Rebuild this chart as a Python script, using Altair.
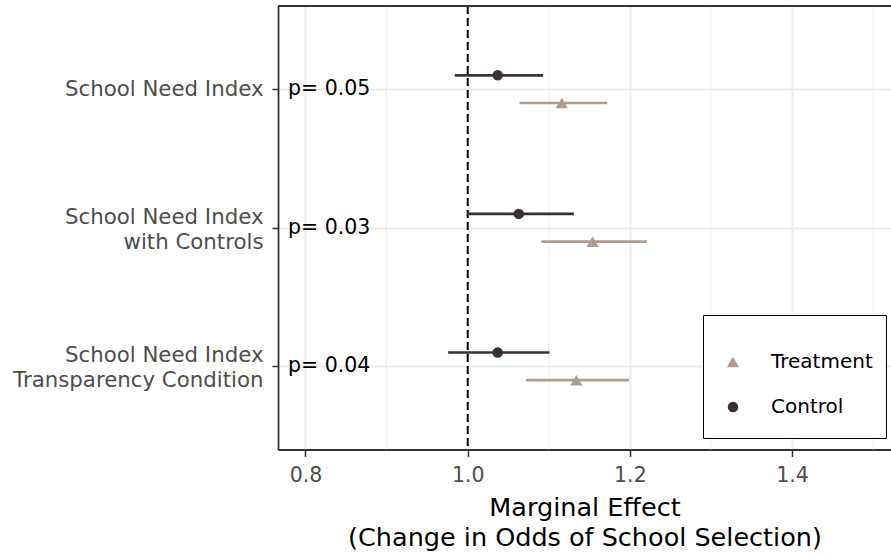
import altair as alt
import pandas as pd

# Models (rows, top to bottom) and their axis labels
models = ["need", "need_controls", "need_transparency"]
model_labels = [
    ["School Need Index"],
    ["School Need Index\u00a0", "with Controls"],
    ["School Need Index\u00a0", "Transparency Condition"],
]
p_text = ["p= 0.05", "p= 0.03", "p= 0.04"]

# Marginal effects (odds ratios) with confidence limits
control_est = [1.037, 1.063, 1.037]
control_lo = [0.984, 0.999, 0.976]
control_hi = [1.093, 1.131, 1.101]
treat_est = [1.116, 1.154, 1.134]
treat_lo = [1.064, 1.091, 1.072]
treat_hi = [1.172, 1.221, 1.199]

major_ticks = [0.8, 1.0, 1.2, 1.4]
minor_ticks = [0.9, 1.1, 1.3, 1.5]
x_domain = [0.7661, 1.5220]

groups = ["Treatment", "Control"]
colors = ["#b39b8b", "#3b3131"]
shapes = ["triangle-up", "circle"]
sizes = [150, 110]
dodge = {"Control": -0.1, "Treatment": 0.1}

rows = []
for i, m in enumerate(models):
    rows.append({"row": i + dodge["Control"], "group": "Control", "est": control_est[i],
                 "lo": control_lo[i], "hi": control_hi[i]})
    rows.append({"row": i + dodge["Treatment"], "group": "Treatment", "est": treat_est[i],
                 "lo": treat_lo[i], "hi": treat_hi[i]})
df = pd.DataFrame(rows)
df_p = pd.DataFrame({"row": list(range(len(models))), "p": p_text, "px": [0.7785] * 3})
df_minor = pd.DataFrame({"x": minor_ticks})
df_ref = pd.DataFrame({"x": [1.0]})

label_map = "[" + ", ".join(
    "[" + ", ".join(repr(s) for s in lab) + "]" for lab in model_labels
) + "]"

FONT = "DejaVu Sans"
W, H = 613, 443.5

xscale = alt.Scale(domain=x_domain, nice=False, zero=False)
yscale = alt.Scale(domain=[-0.6, len(models) - 1 + 0.6], reverse=True, nice=False, zero=False)
yaxis = alt.Axis(
    title=None, values=list(range(len(models))),
    labelExpr=f"{label_map}[datum.value]",
    labelFontSize=21.3, labelColor="#4d4d4d", labelFont=FONT, labelPadding=9,
    labelLineHeight=25, labelBaseline="middle", labelLimit=400,
    labelOffset={"condition": {"test": "datum.value == 0", "value": 0}, "value": -10.5},
    tickSize=6, tickColor="#333333", tickWidth=1.5,
    domainColor="#333333", domainWidth=1.8, grid=True, gridColor="#ebebeb",
    gridWidth=2,
)
xaxis = alt.Axis(
    values=major_ticks, format=".1f", labelFontSize=20.5, labelColor="#4d4d4d",
    labelFont=FONT, labelPadding=9, tickSize=7, tickColor="#333333",
    tickWidth=1.5, domainColor="#333333", domainWidth=1.8, grid=True,
    gridColor="#ebebeb", gridWidth=2,
    title=["Marginal Effect", "(Change in Odds of School Selection)"],
    titleFontSize=25.5, titleFont=FONT, titleColor="black",
    titleFontWeight="normal", titleLineHeight=30, titleBaseline="top", titleY=46,
)

minor = alt.Chart(df_minor).mark_rule(color="#ebebeb", strokeWidth=1).encode(
    x=alt.X("x:Q", scale=xscale, axis=xaxis)
)

ref = alt.Chart(df_ref).mark_rule(color="black", strokeWidth=2, strokeDash=[8, 4]).encode(
    x=alt.X("x:Q", scale=xscale)
)

top_border = alt.Chart(df_ref).mark_rule(color="#333333", strokeWidth=1.8).encode(
    y=alt.value(0), x=alt.value(0), x2=alt.value(W + 5)
)

legend = alt.Legend(
    title=" ", orient="none", legendX=425, legendY=309,
    strokeColor="black", fillColor="white",
    padding=13, titleFontSize=12, titlePadding=4, clipHeight=36,
    labelFontSize=20, labelFont=FONT, labelColor="black",
    symbolSize=120, rowPadding=9, labelOffset=28, symbolOffset=7,
    symbolStrokeWidth=0,
)
color_enc = alt.Color("group:N", scale=alt.Scale(domain=groups, range=colors), legend=legend)

bars = alt.Chart(df).mark_rule(strokeWidth=2.7).encode(
    x=alt.X("lo:Q", scale=xscale),
    x2="hi:Q",
    y=alt.Y("row:Q", scale=yscale, axis=yaxis),
    color=color_enc,
)

points = alt.Chart(df).mark_point(filled=True, opacity=1).encode(
    x=alt.X("est:Q", scale=xscale),
    y=alt.Y("row:Q", scale=yscale),
    color=color_enc,
    shape=alt.Shape("group:N", scale=alt.Scale(domain=groups, range=shapes), legend=legend),
    size=alt.Size("group:N", scale=alt.Scale(domain=groups, range=sizes), legend=None),
)

ptext = alt.Chart(df_p).mark_text(align="left", baseline="middle", fontSize=20.5,
                                  font=FONT, color="black").encode(
    x=alt.X("px:Q", scale=xscale),
    y=alt.Y("row:Q", scale=yscale),
    text="p:N",
)

chart = alt.layer(minor, ref, bars, points, ptext, top_border).properties(
    width=W, height=H,
    autosize=alt.AutoSizeParams(type="none"),
    padding={"left": 278, "top": 6, "right": 0, "bottom": 104.5},
).configure_view(stroke=None).configure_legend(
    strokeWidth=1.5,
).configure(background="white")

chart.save("out.html", embed_options={"renderer": "svg", "actions": False})
